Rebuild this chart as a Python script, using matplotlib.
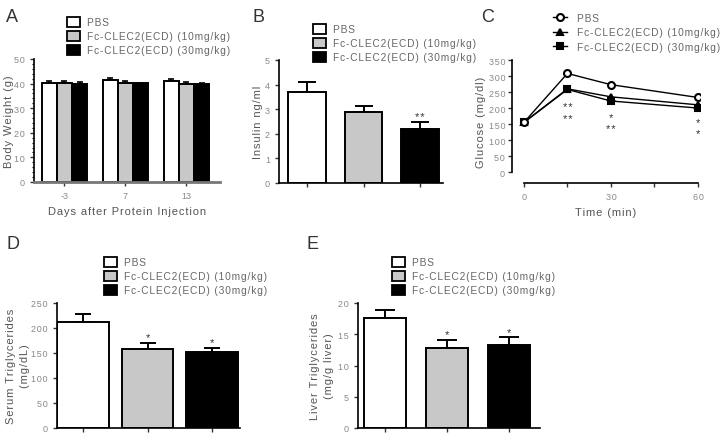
import numpy as np
import matplotlib
matplotlib.use("Agg")
import matplotlib.pyplot as plt
from matplotlib.lines import Line2D

plt.rcParams["font.family"] = ["Liberation Sans", "DejaVu Sans"]

groups = ["PBS", "Fc-CLEC2(ECD) (10mg/kg)", "Fc-CLEC2(ECD) (30mg/kg)"]
bar_colors = ["white", "#c8c8c8", "black"]

# A: body weight
days = ["-3", "7", "13"]
bw_mean = {"PBS": [40.3, 41.5, 40.9],
           "10": [40.4, 40.1, 39.7],
           "30": [40.0, 40.1, 39.7]}
bw_err = {"PBS": [0.9, 0.7, 0.9],
          "10": [0.5, 1.0, 1.0],
          "30": [0.5, 0.3, 0.4]}

# B: insulin
ins_mean = [3.7, 2.9, 2.2]
ins_err = [0.4, 0.25, 0.27]
ins_sig = ["", "", "**"]

# C: glucose tolerance
time_min = [0, 15, 30, 60]
glu_pbs = [155, 308, 273, 233]
glu_10 = [155, 260, 235, 210]
glu_30 = [155, 258, 222, 200]
glu_stars = [(15, 202, "**"), (15, 167, "**"), (30, 173, "*"),
             (30, 136, "**"), (60, 157, "*"), (60, 121, "*")]

# D: serum TG
stg_mean = [213, 159, 152]
stg_err = [15, 12, 8]
stg_sig = ["", "*", "*"]

# E: liver TG
ltg_mean = [17.6, 12.8, 13.3]
ltg_err = [1.3, 1.3, 1.2]
ltg_sig = ["", "*", "*"]

W, H = 725, 435
fig = plt.figure(figsize=(7.25, 4.35), dpi=100)

TXT = "#555555"
TICK = "#888888"


def sp(s):
    # wide letter spacing like the original
    return "\u200a".join(s)


def px_axes(l, t, r, b):
    return fig.add_axes([l / W, 1 - b / H, (r - l) / W, (b - t) / H])


def style(ax):
    for s in ["top", "right"]:
        ax.spines[s].set_visible(False)
    for s in ["left", "bottom"]:
        ax.spines[s].set_linewidth(1.2)
    ax.tick_params(labelsize=6.5, labelcolor=TICK, length=3, width=1, color="#333333")


def yticks(ax, vals):
    ax.set_yticks(vals)
    ax.set_yticklabels([sp(str(v)) for v in vals])


def bar_legend(x, y, dy=14):
    for i, g in enumerate(groups):
        yy = y + i * dy
        fig.patches.append(plt.Rectangle((x / W, 1 - (yy + 5) / H), 13 / W, 10 / H,
                                         transform=fig.transFigure, facecolor=bar_colors[i],
                                         edgecolor="black", linewidth=1.3))
        fig.text((x + 20) / W, 1 - yy / H, sp(g), fontsize=7.3, color="#666666", va="center")


def bar_panel(ax, means, errs, sigs, width, cap):
    x = np.arange(len(means))
    ax.bar(x, means, width, color=bar_colors, edgecolor="black", linewidth=1.4, zorder=2)
    ax.errorbar(x, means, yerr=[np.zeros(len(errs)), errs], fmt="none", ecolor="black",
                elinewidth=1.4, capsize=cap, capthick=1.4, zorder=1)
    top = ax.get_ylim()[1]
    for xi, m, e, s in zip(x, means, errs, sigs):
        if s:
            ax.text(xi, m + e + top * 0.005, sp(s), ha="center", va="bottom", fontsize=8,
                    color="#333333")
    ax.set_xticks(x)
    ax.set_xticklabels([])


# ---- A
axA = px_axes(34, 60, 220, 183)
style(axA)
axA.set_ylim(0, 50)
axA.set_xlim(-0.5, 2.55)
xg = np.arange(3)
wA = 0.25
for i, k in enumerate(["PBS", "10", "30"]):
    pos = xg + (i - 1) * wA
    axA.bar(pos, bw_mean[k], wA, color=bar_colors[i], edgecolor="black", linewidth=1.4, zorder=2)
    axA.errorbar(pos, bw_mean[k], yerr=[np.zeros(3), bw_err[k]], fmt="none", ecolor="black",
                 elinewidth=1.2, capsize=2.5, capthick=1.2, zorder=1)
axA.set_xticks(xg)
axA.set_xticklabels(days)
yticks(axA, range(0, 51, 10))
axA.set_yticks(range(0, 51, 2), minor=True)
axA.tick_params(which="minor", length=1.5, width=0.8)
axA.spines["bottom"].set_color("#777777")
axA.spines["bottom"].set_linewidth(2)
axA.set_ylabel(sp("Body Weight (g)"), fontsize=8, color=TXT)
axA.yaxis.set_label_coords(-0.105, 0.5)
axA.set_xlabel(sp("Days after Protein Injection"), fontsize=8, color=TXT, labelpad=4)
bar_legend(67, 23)

# ---- B
axB = px_axes(279, 61, 443, 184)
style(axB)
axB.set_ylim(0, 5)
axB.set_xlim(-0.5, 2.41)
yticks(axB, range(0, 6))
bar_panel(axB, ins_mean, ins_err, ins_sig, 0.67, 6.5)
axB.set_ylabel(sp("Insulin ng/ml"), fontsize=8, color=TXT)
axB.yaxis.set_label_coords(-0.1, 0.5)
bar_legend(313, 30)

# ---- C
axC = px_axes(512, 61, 700, 184)
style(axC)
axC.tick_params(axis="y", pad=2)
axC.set_xlim(-4.1, 60.7)
axC.set_ylim(-34, 350)
axC.spines["left"].set_bounds(0, 350)
axC.spines["bottom"].set_bounds(0, 60)
yticks(axC, range(0, 351, 50))
axC.set_xticks([0, 15, 30, 45, 60])
axC.set_xticklabels(["0", "", sp("30"), "", sp("60")])
kw = dict(color="black", linewidth=1.0, markersize=5, markeredgewidth=1.5)
axC.plot(time_min, glu_10, marker="^", markerfacecolor="black", zorder=3, **kw)
axC.plot(time_min, glu_30, marker="s", markerfacecolor="black", zorder=3, **kw)
axC.plot(time_min, glu_pbs, marker="o", markerfacecolor="white", zorder=4, **kw)
for tx, ty, s in glu_stars:
    axC.text(tx, ty, sp(s), ha="center", va="center", fontsize=8, color="#333333")
axC.set_ylabel(sp("Glucose (mg/dl)"), fontsize=8, color=TXT)
axC.yaxis.set_label_coords(-0.14, 0.5)
axC.set_xlabel(sp("Time (min)"), fontsize=8, color=TXT, labelpad=4)
handles = [Line2D([], [], marker="o", markerfacecolor="white", **kw),
           Line2D([], [], marker="^", markerfacecolor="black", **kw),
           Line2D([], [], marker="s", markerfacecolor="black", **kw)]
fig.legend(handles, [sp(g) for g in groups], loc="upper left",
           bbox_to_anchor=(553 / W, 1 - 14 / H),
           frameon=False, fontsize=7.3, labelcolor="#666666", handlelength=1.4,
           handletextpad=1.0, labelspacing=0.42, borderaxespad=0, borderpad=0)

# ---- D
axD = px_axes(57, 304, 240, 429)
style(axD)
axD.set_ylim(0, 250)
axD.set_xlim(-0.4, 2.43)
yticks(axD, range(0, 251, 50))
bar_panel(axD, stg_mean, stg_err, stg_sig, 0.8, 6)
axD.set_ylabel(sp("Serum Triglycerides") + "\n" + sp("(mg/dL)"), fontsize=8, color=TXT,
               linespacing=1.5)
axD.yaxis.set_label_coords(-0.145, 0.5)
bar_legend(104, 263)

# ---- E
axE = px_axes(358, 304, 540, 429)
style(axE)
axE.set_ylim(0, 20)
axE.set_xlim(-0.44, 2.5)
yticks(axE, range(0, 21, 5))
bar_panel(axE, ltg_mean, ltg_err, ltg_sig, 0.68, 7)
axE.set_ylabel(sp("Liver Triglycerides") + "\n" + sp("(mg/g liver)"), fontsize=8, color=TXT,
               linespacing=1.5)
axE.yaxis.set_label_coords(-0.13, 0.5)
bar_legend(392, 263)

# panel letters
for lab, x, y in [("A", 6, 18), ("B", 252, 18), ("C", 481, 18), ("D", 6, 245), ("E", 306, 245)]:
    fig.text(x / W, 1 - y / H, lab, fontsize=13, color="#333333", va="center")

fig.savefig("out.png", dpi=100)
